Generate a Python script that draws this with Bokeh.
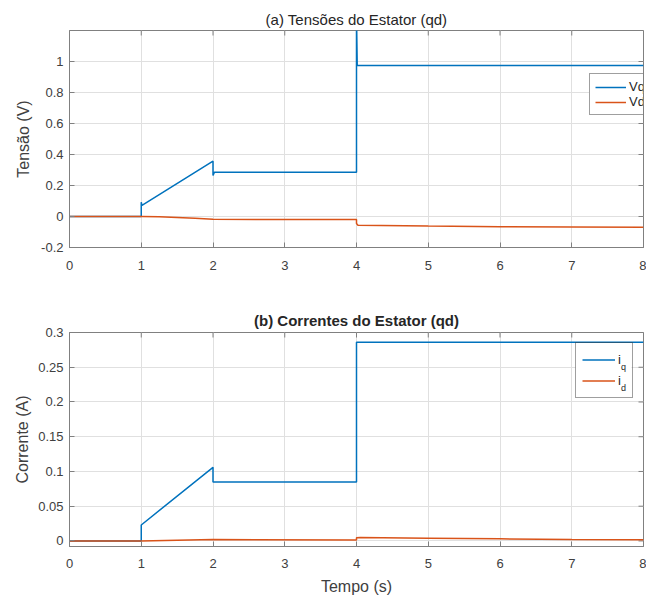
import math
from bokeh.plotting import figure
from bokeh.models import Range1d, FixedTicker, LinearAxis, Legend, LegendItem, Grid, BoxAnnotation
from bokeh.core.properties import value
from bokeh.layouts import column
from bokeh.embed import file_html
from bokeh.resources import INLINE

# ---------------- data ----------------
vq_t = [0.0, 1.0, 1.0, 1.01, 2.0, 2.0, 2.02, 4.0, 4.0, 4.01, 8.0]
vq = [0.0, 0.0, 0.092, 0.072, 0.357, 0.265, 0.286, 0.286, 1.30, 0.975, 0.975]

vd_t = [0.0, 1.0, 1.25, 1.5, 1.75, 2.0, 3.0, 4.0, 4.0, 4.02, 5.0, 6.0, 7.0, 8.0]
vd = [0.0, 0.0, -0.002, -0.006, -0.012, -0.018, -0.019, -0.020, -0.045, -0.056, -0.062, -0.066, -0.068, -0.070]

iq_t = [0.0, 1.0, 1.0, 2.0, 2.0, 4.0, 4.0, 8.0]
iq = [0.0, 0.0, 0.023, 0.106, 0.085, 0.085, 0.286, 0.286]

id_t = [0.0, 1.0, 2.0, 4.0, 4.0, 4.05, 5.0, 6.0, 7.0, 8.0]
id_ = [0.0, 0.0, 0.002, 0.0015, 0.0045, 0.005, 0.004, 0.003, 0.0022, 0.0018]

x_ticks = [0, 1, 2, 3, 4, 5, 6, 7, 8]
v_ticks = [-0.2, 0.0, 0.2, 0.4, 0.6, 0.8, 1.0]
v_tick_labels = ["-0.2", "0", "0.2", "0.4", "0.6", "0.8", "1"]
i_ticks = [0.0, 0.05, 0.1, 0.15, 0.2, 0.25, 0.3]
i_tick_labels = ["0", "0.05", "0.1", "0.15", "0.2", "0.25", "0.3"]

# ---------------- style ----------------
FONT = "Liberation Sans"
TXT = "#404040"
SPINE = "#808080"
GRID = "#e0e0e0"
BLUE = "#0072BD"
ORANGE = "#D95319"

W = 646
BL, BR = 69, 3
FW = W - BL - BR


def make_fig(h, btop, bbot, yr, yticks, ylabels, title, bold, ylabel, xlabel,
             ylab_standoff, title_standoff, xlab_standoff, xtick_standoff):
    p = figure(width=W, height=h, x_range=Range1d(0, 8), y_range=Range1d(*yr),
               output_backend="svg", toolbar_location=None,
               x_axis_type=None, y_axis_type=None,
               min_border_left=BL, min_border_right=BR,
               min_border_top=btop, min_border_bottom=bbot)
    p.outline_line_color = SPINE
    p.outline_line_width = 1
    p.background_fill_color = "white"
    p.border_fill_color = "white"

    xt = FixedTicker(ticks=x_ticks)
    yt = FixedTicker(ticks=yticks)
    over = {t: s for t, s in zip(yticks, ylabels)}

    xa = LinearAxis(ticker=xt, axis_label=xlabel)
    ya = LinearAxis(ticker=yt, major_label_overrides=over, axis_label=ylabel)
    for a in (xa, ya):
        a.major_tick_in = 5
        a.major_tick_out = 0
        a.minor_tick_line_color = None
        a.axis_line_color = SPINE
        a.major_tick_line_color = SPINE
        a.major_label_text_font = FONT
        a.major_label_text_font_size = "13px"
        a.major_label_text_color = TXT
        a.axis_label_text_font = FONT
        a.axis_label_text_font_size = "16px"
        a.axis_label_text_font_style = "normal"
        a.axis_label_text_color = TXT
    xa.major_label_standoff = xtick_standoff
    xa.axis_label_standoff = xlab_standoff
    ya.major_label_standoff = 6
    ya.axis_label_standoff = ylab_standoff
    p.add_layout(xa, "below")
    p.add_layout(ya, "left")

    # inner tick marks on the top and right edges (box on), clipped by the frame
    p.scatter(x=[8] * len(yticks), y=yticks, marker="dash", size=10,
              line_color=SPINE, line_width=1)
    p.scatter(x=x_ticks, y=[yr[1]] * len(x_ticks), marker="dash", size=10,
              angle=math.pi / 2, line_color=SPINE, line_width=1)

    p.add_layout(Grid(dimension=0, ticker=xt, grid_line_color=GRID, grid_line_width=1))
    p.add_layout(Grid(dimension=1, ticker=yt, grid_line_color=GRID, grid_line_width=1))

    p.title.text = title
    p.title.align = "center"
    p.title.text_font = FONT
    p.title.text_font_size = "15px"
    p.title.text_font_style = "bold" if bold else "normal"
    p.title.text_color = "#262626"
    p.title.standoff = title_standoff
    return p


# ---------------- top: voltages ----------------
H1, T1, B1 = 290, 30, 43
p1 = make_fig(H1, T1, B1, (-0.2, 1.2), v_ticks, v_tick_labels,
              "(a) Tensões do Estator (qd)", False, "Tensão (V)", None, 6, 5, 0, 13)
r_vq = p1.line(vq_t, vq, line_color=BLUE, line_width=1.5)
r_vd = p1.line(vd_t, vd, line_color=ORANGE, line_width=1.5)
leg1 = Legend(items=[LegendItem(label="Vq", renderers=[r_vq]),
                     LegendItem(label="Vd", renderers=[r_vd])],
              location=(FW - 54, 132), padding=5, spacing=0, margin=0,
              glyph_width=31, glyph_height=14, label_height=14, label_standoff=3,
              label_text_font=FONT, label_text_font_size="13px", label_text_color="#262626",
              border_line_color="#404040", border_line_width=1,
              background_fill_color="white", background_fill_alpha=1.0)
p1.add_layout(leg1)

# ---------------- bottom: currents ----------------
H2, T2, B2 = 307, 42, 50
IY = (-0.008, 0.3)
p2 = make_fig(H2, T2, B2, IY, i_ticks, i_tick_labels,
              "(b) Correntes do Estator (qd)", True, "Corrente (A)", "Tempo (s)", 4, 7, 7, 12)
FH2 = H2 - T2 - B2
L2X, L2Y, PAD2, LH2, GW2, ST2 = FW - 68, 148, 6, 21, 33, 3
LW2 = 56
LHT2 = 2 * PAD2 + 2 * LH2


def px2x(px):
    return px / FW * 8


def px2y(py):
    return IY[0] + py / FH2 * (IY[1] - IY[0])


# white backing of the (transparent) legend box, hides the grid below it
p2.add_layout(BoxAnnotation(left=px2x(L2X), right=px2x(L2X + LW2),
                            bottom=px2y(L2Y), top=px2y(L2Y + LHT2),
                            fill_color="white", fill_alpha=1.0, line_color=None,
                            level="underlay"))

r_iq = p2.line(iq_t, iq, line_color=BLUE, line_width=1.5)
r_id = p2.line(id_t, id_, line_color=ORANGE, line_width=1.5)

# subscripts of the legend labels (q, d)
sub_x = px2x(L2X + PAD2 + GW2 + ST2 + 3.5)
sub_y = [px2y(L2Y + PAD2 + (1.5 - k) * LH2) for k in range(2)]
p2.text(x=[sub_x, sub_x], y=sub_y, text=["q", "d"], y_offset=5,
        text_font=value(FONT), text_font_size="9px", text_color="#262626",
        text_align="left", text_baseline="middle")

leg2 = Legend(items=[LegendItem(label="i", renderers=[r_iq]),
                     LegendItem(label="i", renderers=[r_id])],
              location=(L2X, L2Y), padding=PAD2, spacing=0, margin=0,
              glyph_width=GW2, glyph_height=LH2, label_height=LH2, label_width=8,
              label_standoff=ST2,
              label_text_font=FONT, label_text_font_size="13px", label_text_color="#262626",
              border_line_color="#404040", border_line_width=1,
              background_fill_alpha=0.0)
p2.add_layout(leg2)

layout = column(p1, p2, spacing=0)
open("out.html", "w").write(file_html(layout, INLINE))
